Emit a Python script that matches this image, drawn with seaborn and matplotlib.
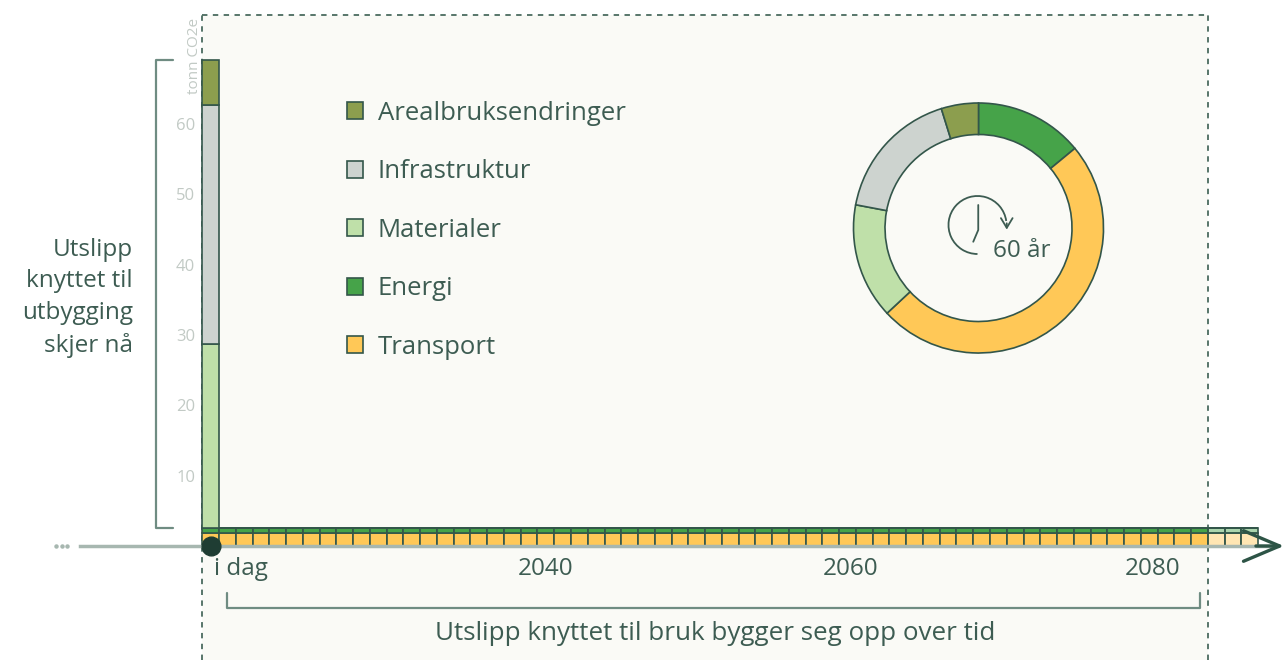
import numpy as np
import pandas as pd
import matplotlib.pyplot as plt
from matplotlib.patches import Rectangle, Patch, Arc
import seaborn as sns

# Kategorier (rekkefølge som i forklaringen, øverst til nederst i søylen)
kategorier = ["Arealbruksendringer", "Infrastruktur", "Materialer", "Energi", "Transport"]
farger = ["#8c9e4e", "#cdd3cf", "#bfe0a9", "#46a349", "#ffc857"]

# Utslipp (tonn CO2e)
engangs_utslipp = [6.4, 34.0, 26.2, 0.0, 0.0]   # skjer ved utbygging (i dag)
arlige_utslipp = [0.0, 0.0, 0.0, 0.6, 1.9]      # bruk, hvert år
antall_ar = 60
ekstra_ar = 3  # falmede søyler etter 60 år

# Ringdiagram: andel over 60 år
ring_kategorier = ["Energi", "Transport", "Materialer", "Infrastruktur", "Arealbruksendringer"]
ring_andel = [14.0, 49.0, 14.9, 17.2, 4.8]

# Akser
ar_etiketter = ["i dag", "2040", "2060", "2080"]
ar_posisjon = [1.8, 20.0, 38.2, 56.2]
y_ticks = [10, 20, 30, 40, 50, 60]

# Farger for tekst og linjer
TEKST = "#3d5c52"
KANT = "#33564a"
GRA_LYS = "#c2cac5"
AKSE_GRA = "#a7b7b0"
BRAKETT = "#6f8c82"
PANEL = "#fafaf6"

# Bygg datasett
rows = []
for ar in range(antall_ar + ekstra_ar):
    for kat, engang, arlig in zip(kategorier, engangs_utslipp, arlige_utslipp):
        verdi = arlig + (engang if ar == 0 else 0.0)
        rows.append({"ar": ar, "kategori": kat, "utslipp": verdi, "fremtid": ar >= antall_ar})
df = pd.DataFrame(rows)

sns.set_style("white")
plt.rcParams["font.family"] = ["Open Sans", "DejaVu Sans"]

W, H = 1288, 660
X0_PX, PX_PER_AR = 202.3, 16.76
Y0_PX, PX_PER_T = 546, 7.033

fig = plt.figure(figsize=(12.88, 6.6), dpi=100)
ax = fig.add_axes([0, 0, 1, 1])
ax.set_facecolor("none")

# Stablede søyler
sns.histplot(data=df[~df["fremtid"]], x="ar", weights="utslipp", hue="kategori",
             hue_order=kategorier, palette=farger, multiple="stack", discrete=True,
             shrink=1, edgecolor=KANT, linewidth=1.2, alpha=1, legend=False, ax=ax)
sns.histplot(data=df[df["fremtid"]], x="ar", weights="utslipp", hue="kategori",
             hue_order=kategorier, palette=farger, multiple="stack", discrete=True,
             shrink=1, edgecolor=KANT, linewidth=1.2, alpha=0.45, legend=False, ax=ax)

xmin = -0.5 - X0_PX / PX_PER_AR
xmax = -0.5 + (W - X0_PX) / PX_PER_AR
ymin = -(H - Y0_PX) / PX_PER_T
ymax = Y0_PX / PX_PER_T
ax.set_xlim(xmin, xmax)
ax.set_ylim(ymin, ymax)

# Bakgrunnspanel med stiplet ramme
topp_panel = (Y0_PX - 15) / PX_PER_T
ax.add_patch(Rectangle((-0.5, ymin), antall_ar, topp_panel - ymin,
                       facecolor=PANEL, edgecolor="none", zorder=0))
stipl = dict(color="#4a6b5f", lw=1.3, ls=(0, (3, 3)), clip_on=False, zorder=0.5)
ax.plot([-0.5, -0.5], [ymin, topp_panel], **stipl)
ax.plot([antall_ar - 0.5, antall_ar - 0.5], [ymin, topp_panel], **stipl)
ax.plot([-0.5, antall_ar - 0.5], [topp_panel, topp_panel], **stipl)

# Akser
for s in ["top", "right"]:
    ax.spines[s].set_visible(False)
ax.spines["left"].set_position(("data", -0.5))
ax.spines["left"].set_visible(False)
ax.spines["bottom"].set_position(("data", 0))
ax.spines["bottom"].set_bounds(-7.8, 63.6)
ax.spines["bottom"].set_color(AKSE_GRA)
ax.spines["bottom"].set_linewidth(2.5)

ax.set_yticks(y_ticks)
ax.tick_params(axis="y", length=4, width=1, color=GRA_LYS, labelcolor=GRA_LYS,
               labelsize=12, pad=1)
ax.set_xticks(ar_posisjon, ar_etiketter)
ax.set_xticks(np.arange(-7, antall_ar + ekstra_ar), minor=True)
ax.tick_params(axis="x", which="major", length=0, pad=8, labelsize=17.5, labelcolor=TEKST)
ax.tick_params(axis="x", which="minor", length=4, width=1, color=AKSE_GRA)
ax.set_xlabel("")
ax.set_ylabel("tonn CO2e", fontsize=11, color=GRA_LYS)
ax.yaxis.set_label_coords(202 / W, 1 - 56 / H)

# Pil, prikk og "..."
ax.annotate("", xy=(64.2, 0), xytext=(62.2, 0), annotation_clip=False,
            arrowprops=dict(arrowstyle="->,head_length=1.3,head_width=0.55",
                            color="#2d5446", lw=2.4, mutation_scale=20))
ax.plot(0, 0, "o", ms=13.5, color="#1f3d33", clip_on=False, zorder=6)
ax.plot([-9.25, -8.9, -8.55], [0, 0, 0], ls="none", marker="o", ms=2.2,
        color=AKSE_GRA, clip_on=False)

# Klamme og tekst til venstre
bunn = sum(arlige_utslipp)
topp = bunn + sum(engangs_utslipp)
ax.plot([-2.25, -3.26, -3.26, -2.25], [topp, topp, bunn, bunn], color=BRAKETT,
        lw=1.6, clip_on=False)
ax.text(-4.63, 35.3, "Utslipp\nknyttet til\nutbygging\nskjer nå", ha="right",
        va="center", fontsize=17.5, color=TEKST, linespacing=1.42)

# Klamme og tekst under
ax.plot([1, 1, antall_ar - 1, antall_ar - 1], [-6.7, -8.8, -8.8, -6.7],
        color=BRAKETT, lw=1.6, clip_on=False)
ax.text(30.1, -12.4, "Utslipp knyttet til bruk bygger seg opp over tid",
        ha="center", va="center", fontsize=18.7, color=TEKST)

# Forklaring
handles = [Patch(facecolor=c, edgecolor=KANT, lw=1.2) for c in farger]
ax.legend(handles, kategorier, loc="upper left", bbox_to_anchor=(347 / W, 1 - 101 / H),
          bbox_transform=fig.transFigure, frameon=False, fontsize=18.5,
          handlelength=0.64, handleheight=0.64, handletextpad=0.55, labelspacing=1.3,
          borderpad=0, borderaxespad=0, labelcolor=TEKST)

# Ringdiagram
r_px = 127.5
ring_ax = fig.add_axes([(978.5 - r_px) / W, (H - 228 - r_px) / H, 2 * r_px / W, 2 * r_px / H])
ring_farger = [farger[kategorier.index(k)] for k in ring_kategorier]
ring_ax.pie(ring_andel, colors=ring_farger, startangle=90, counterclock=False, radius=1,
            wedgeprops=dict(width=0.252, edgecolor=KANT, linewidth=1.2))
lim = r_px / 125
ring_ax.set_xlim(-lim, lim)
ring_ax.set_ylim(-lim, lim)
ring_ax.axis("off")

# Klokke-ikon
cx, cy, cr = -0.008, 0.024, 0.232
ring_ax.add_patch(Arc((cx, cy), 2 * cr, 2 * cr, theta1=8, theta2=270, color=TEKST, lw=1.3))
ring_ax.annotate("", xy=(0.226, -0.035), xytext=(0.226, 0.06),
                 arrowprops=dict(arrowstyle="->,head_length=0.5,head_width=0.3",
                                 color=TEKST, lw=1.3, mutation_scale=14))
ring_ax.plot([-0.002, -0.002, -0.042], [0.184, -0.016, -0.11], color=TEKST, lw=1.3)
ring_ax.text(0.348, -0.184, "60 år", ha="center", va="center", fontsize=17.5, color=TEKST)

fig.savefig("out.png", dpi=100, facecolor="white")
